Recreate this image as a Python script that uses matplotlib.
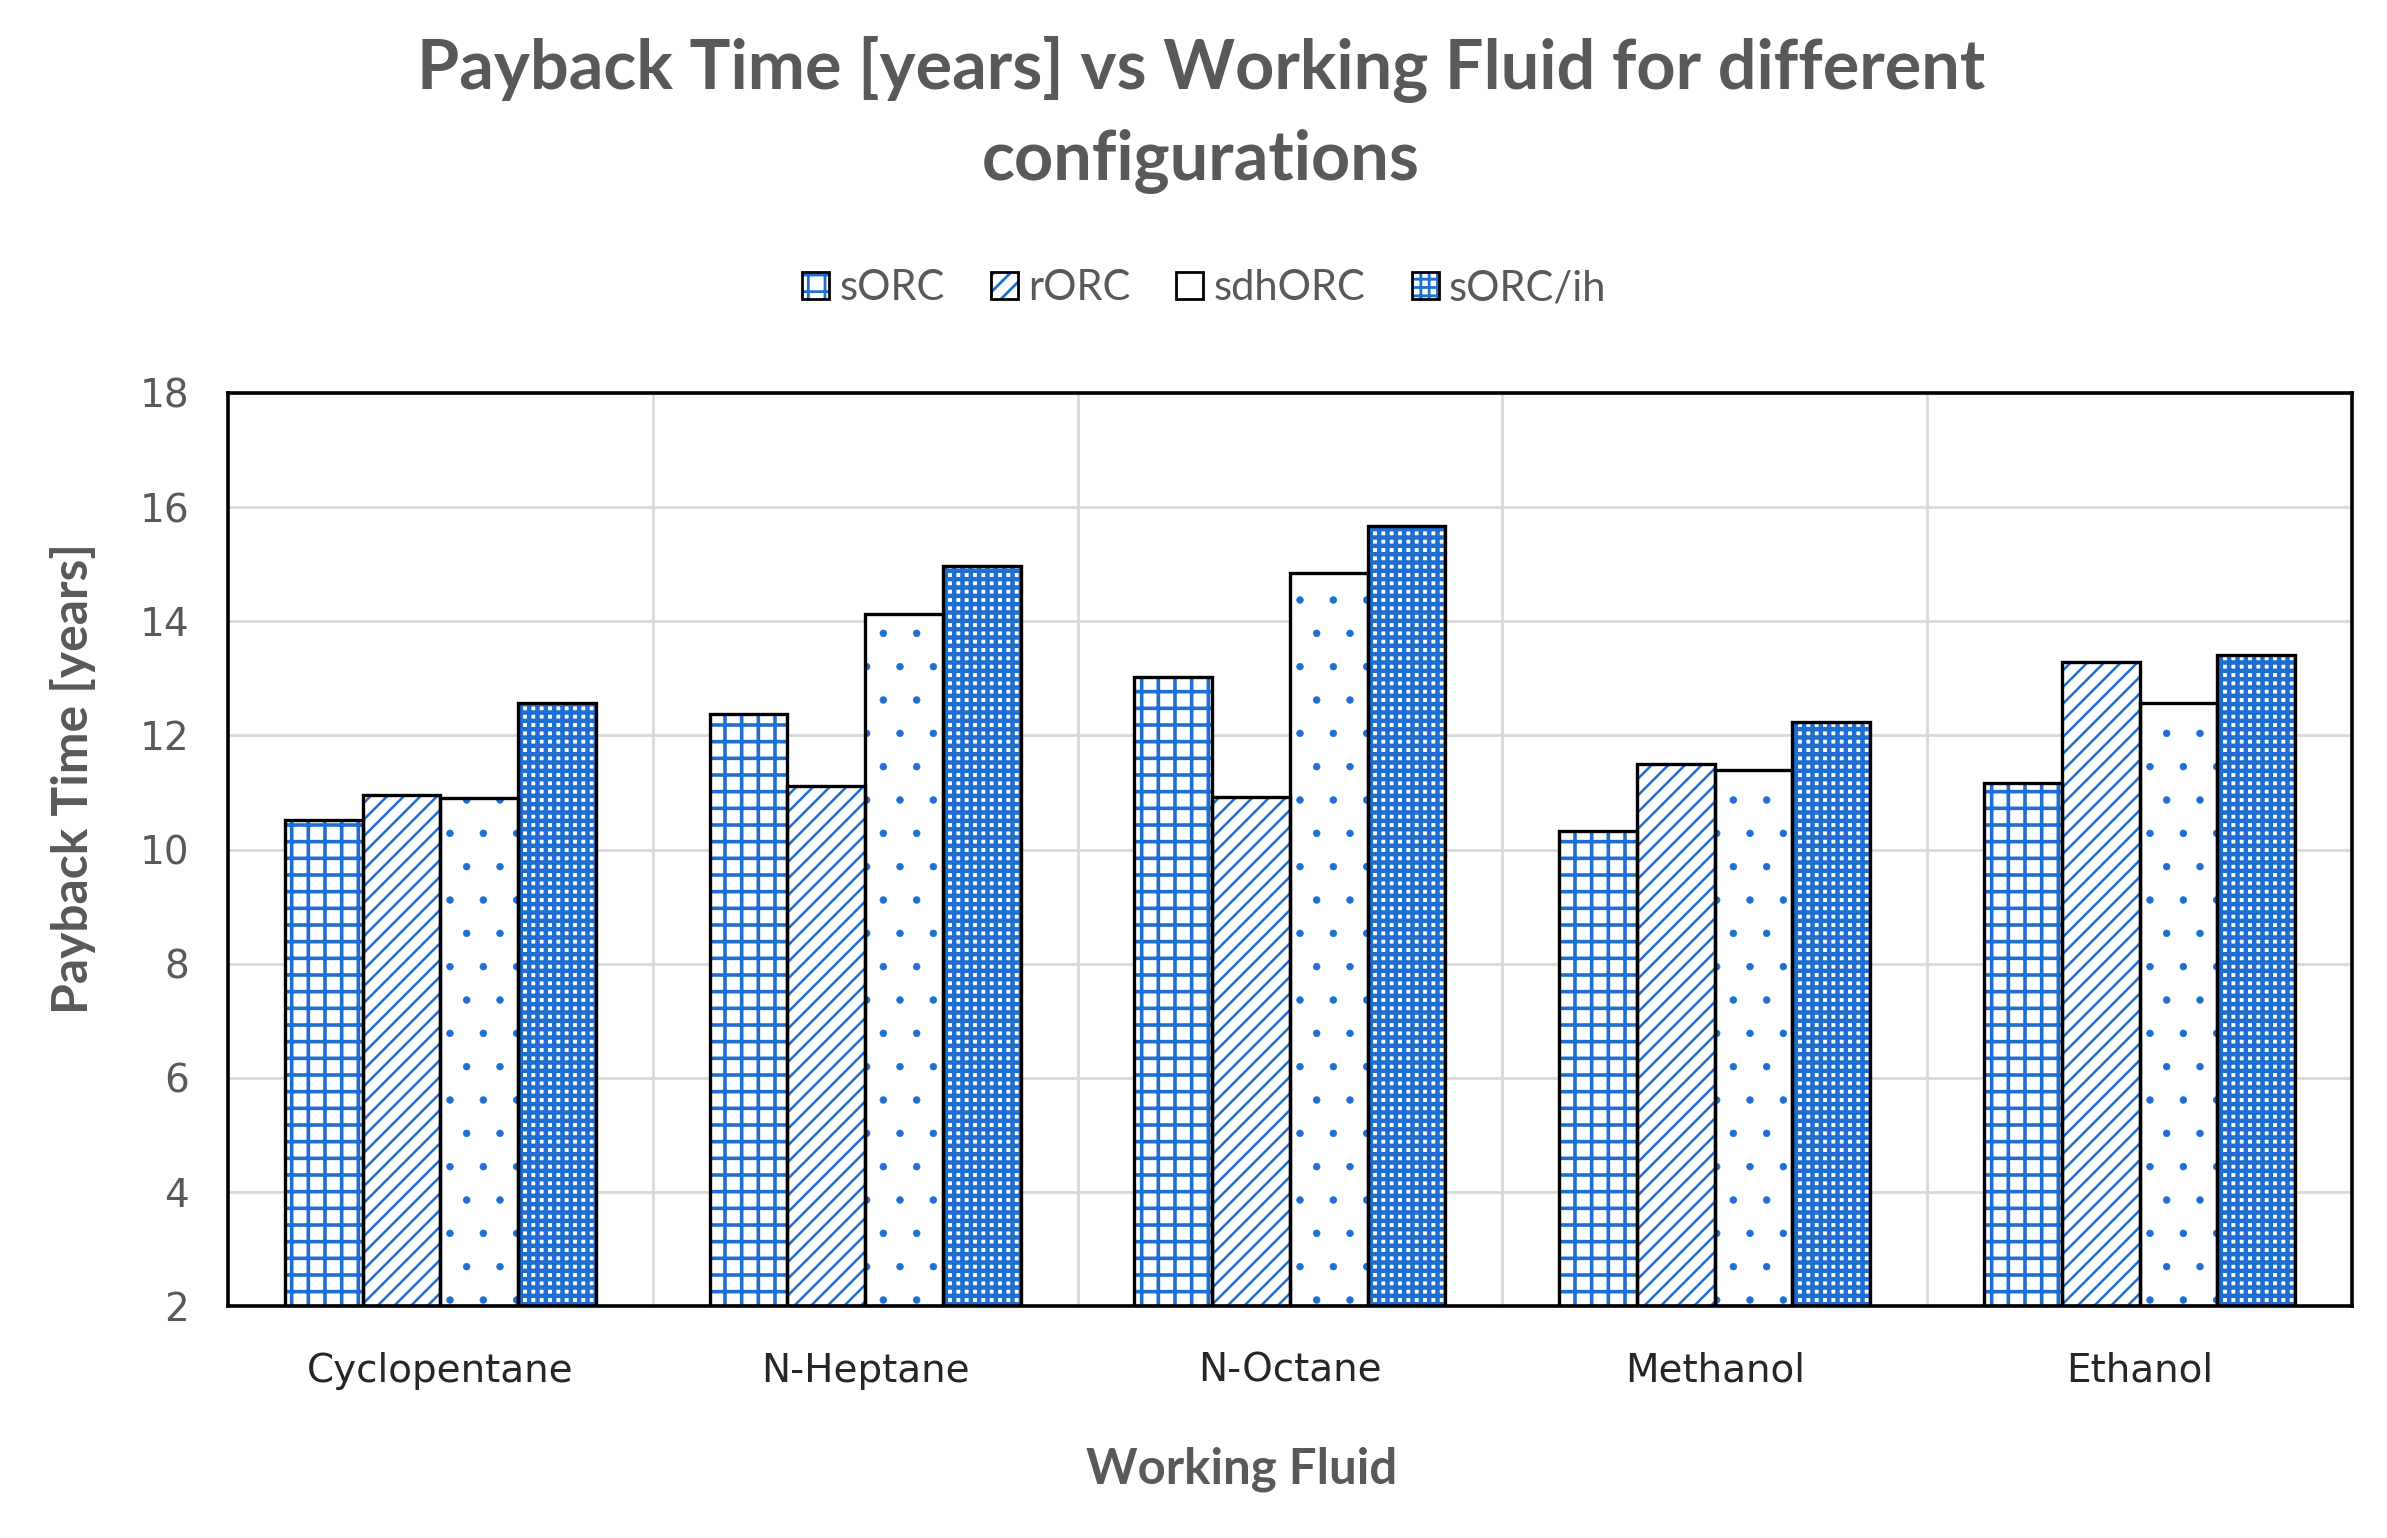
import matplotlib
matplotlib.use("Agg")
import matplotlib.pyplot as plt
import numpy as np
from matplotlib.patches import Patch
from matplotlib.legend_handler import HandlerTuple

fluids = ["Cyclopentane", "N-Heptane", "N-Octane", "Methanol", "Ethanol"]
series = ["sORC", "rORC", "sdhORC", "sORC/ih"]
sORC = [10.52, 12.38, 13.02, 10.33, 11.17]
rORC = [10.95, 11.12, 10.92, 11.50, 13.29]
sdhORC = [10.90, 14.12, 14.84, 11.40, 12.57]
sORC_ih = [12.56, 14.96, 15.67, 12.24, 13.40]
values = [sORC, rORC, sdhORC, sORC_ih]
yticks = [2, 4, 6, 8, 10, 12, 14, 16, 18]

hatches = ["++", "////", ".", "++++"]
hatch_lw = [1.3, 0.9, 0.25, 1.6]
BLUE = "#1f6fd3"
GRAY = "#595959"

fig = plt.figure(figsize=(11.935, 7.69), dpi=200)
ax = fig.add_axes([0.0955, 0.1508, 0.8898, 0.5937])

x = np.arange(len(fluids))
w = 0.183
handles = []
for i, (name, vals) in enumerate(zip(series, values)):
    pos = x + (i - 1.5) * w
    with plt.rc_context({"hatch.linewidth": hatch_lw[i]}):
        ax.bar(pos, np.array(vals) - 2, bottom=2, width=w, facecolor="white",
               edgecolor=BLUE, hatch=hatches[i], linewidth=0, zorder=2)
        p1 = Patch(facecolor="white", edgecolor=BLUE,
                   hatch=(hatches[i] if i != 2 else None), linewidth=0)
    ax.bar(pos, np.array(vals) - 2, bottom=2, width=w, facecolor="none",
           edgecolor="black", linewidth=1.2, zorder=3)
    p2 = Patch(facecolor="none", edgecolor="black", linewidth=1.0)
    handles.append((p1, p2))

ax.set_xlim(-0.5, len(fluids) - 0.5)
ax.set_ylim(2, 18)
ax.set_yticks(yticks)
ax.set_yticklabels([str(t) for t in yticks])
ax.set_xticks(x)
ax.set_xticklabels(fluids)
ax.set_xticks(np.arange(len(fluids) - 1) + 0.5, minor=True)
ax.grid(axis="y", color="#d9d9d9", linewidth=1.0, zorder=0)
ax.grid(axis="x", which="minor", color="#d9d9d9", linewidth=1.0, zorder=0)
ax.set_axisbelow(True)
ax.tick_params(axis="both", which="both", length=0, labelsize=14, labelcolor=GRAY)
ax.tick_params(axis="y", pad=14)
ax.tick_params(axis="x", pad=16.5)
for lab in ax.get_xticklabels():
    lab.set_color("#262626")
for s in ax.spines.values():
    s.set_color("black")
    s.set_linewidth(1.3)

fig.text(0.503, 0.955, "Payback Time [years] vs Working Fluid for different",
         ha="center", va="center", fontsize=24.6, fontweight="bold",
         color=GRAY, family="Lato")
fig.text(0.503, 0.895, "configurations", ha="center", va="center",
         fontsize=24.6, fontweight="bold", color=GRAY, family="Lato")

fig.text(0.52, 0.045, "Working Fluid", ha="center", va="center",
         fontsize=17.7, fontweight="bold", color=GRAY, family="Lato")
fig.text(0.0306, 0.494, "Payback Time [years]", ha="center", va="center",
         rotation=90, fontsize=17.9, fontweight="bold", color=GRAY, family="Lato")

leg = fig.legend(handles, series, handler_map={tuple: HandlerTuple(ndivide=1)},
                 loc="center", bbox_to_anchor=(0.5045, 0.8127), ncol=4,
                 frameon=False, prop={"family": "Lato", "size": 15},
                 handlelength=0.65, handleheight=0.65, handletextpad=0.25,
                 columnspacing=1.1)
for t in leg.get_texts():
    t.set_color(GRAY)

fig.savefig("out.png", dpi=200)
